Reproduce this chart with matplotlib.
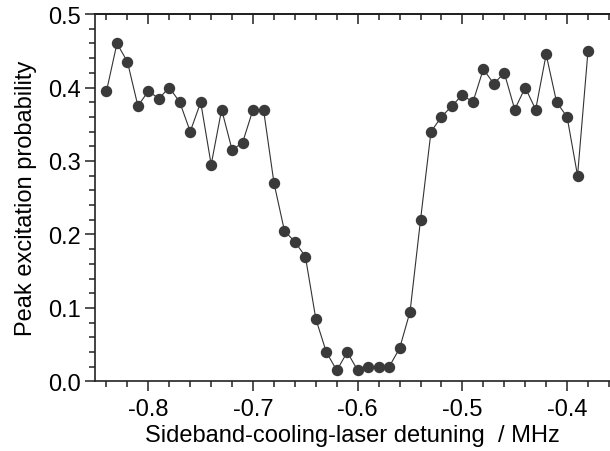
import numpy as np
import matplotlib.pyplot as plt
from matplotlib.ticker import MultipleLocator

plt.rcParams['font.family'] = ['Liberation Sans', 'DejaVu Sans']

# detuning in MHz, one scan point every 10 kHz
detuning = np.round(np.arange(-0.84, -0.375, 0.01), 2)
excitation = [
    0.395, 0.460, 0.435, 0.375, 0.395, 0.385, 0.400, 0.380, 0.340, 0.380,
    0.295, 0.370, 0.315, 0.325, 0.370, 0.370, 0.270, 0.205, 0.190, 0.170,
    0.085, 0.040, 0.015, 0.040, 0.015, 0.020, 0.020, 0.020, 0.045, 0.095,
    0.220, 0.340, 0.360, 0.375, 0.390, 0.380, 0.425, 0.405, 0.420, 0.370,
    0.400, 0.370, 0.445, 0.380, 0.360, 0.280, 0.450,
]

fig = plt.figure(figsize=(6.10, 4.52), dpi=100)
ax = fig.add_axes([0.1557, 0.1538, 0.8443, 0.8130])

ax.plot(detuning, excitation, '-', color='#333333', lw=0.8,
        marker='o', ms=7.2, mfc='#3a3a3a', mec='#3a3a3a')

ax.set_xlim(-0.851, -0.359)
ax.set_ylim(0.0, 0.5)
ax.xaxis.set_major_locator(MultipleLocator(0.1))
ax.xaxis.set_minor_locator(MultipleLocator(0.02))
ax.yaxis.set_major_locator(MultipleLocator(0.1))
ax.yaxis.set_minor_locator(MultipleLocator(0.02))
ax.xaxis.set_major_formatter(plt.FuncFormatter(lambda v, p: f"{v:.1f}"))
ax.yaxis.set_major_formatter(plt.FuncFormatter(lambda v, p: f"{v:.1f}"))

ax.spines['right'].set_visible(False)
for s in ax.spines.values():
    s.set_linewidth(1.2)
    s.set_color('#222222')

ax.tick_params(which='both', direction='out', top=False, right=False,
               labelsize=17, color='#222222', width=1.1, pad=3)
ax.tick_params(axis='x', which='major', pad=5)
ax.tick_params(which='major', length=7)
ax.tick_params(which='minor', length=4)

# inward ticks along the top edge
top = ax.secondary_xaxis('top')
top.xaxis.set_major_locator(MultipleLocator(0.1))
top.xaxis.set_minor_locator(MultipleLocator(0.02))
top.tick_params(which='both', direction='in', labeltop=False, color='#222222', width=1.1)
top.tick_params(which='major', length=7)
top.tick_params(which='minor', length=4)
top.spines['top'].set_linewidth(1.2)

ax.set_xlabel('Sideband-cooling-laser detuning  / MHz', fontsize=17, labelpad=3)
ax.set_ylabel('Peak excitation probability', fontsize=17, labelpad=8)

fig.savefig('out.png', dpi=100)
